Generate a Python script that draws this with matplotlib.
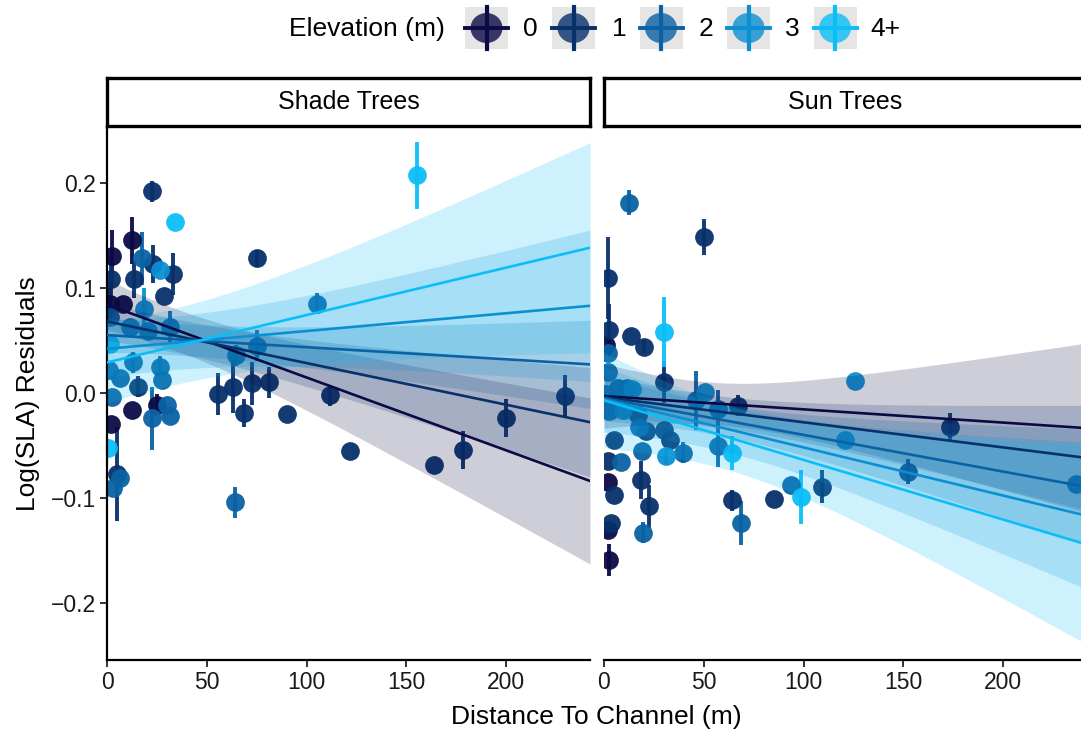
import numpy as np
import matplotlib
matplotlib.use('Agg')
import matplotlib.pyplot as plt
from matplotlib.patches import Rectangle, Ellipse

plt.rcParams['font.family'] = ['Liberation Sans', 'DejaVu Sans']

elev_labels = ['0', '1', '2', '3', '4+']
elev_colors = ['#0b0a45', '#08306b', '#0a62a4', '#0b8fd3', '#0bbef8']
panel_titles = ['Shade Trees', 'Sun Trees']
x_ticks = [0, 50, 100, 150, 200]
y_ticks = [-0.2, -0.1, 0.0, 0.1, 0.2]

# ---- Shade trees data (distance m, residual, error half-width, elevation class) ----
shade_dist = [22.5, 34, 75, 155.5, 105, 12.5, 2.5, 17.5, 23, 26.5, 33, 2, 13.5, 28.5, 8, 1.5,
              18.5, 31.5, 20.5, 11.5, 1.5, 13, 26.5, 6.5, 27.5, 15.5, 2.5, 12.5, 25, 30, 22.5,
              31.5, 2, 0.5, 5, 3, 6.5, 64, 64.5, 75, 55.5, 63, 72.5, 81, 68.5, 90, 111.5, 122,
              229.5, 200, 178.5, 164, 1.5, 1]
shade_resid = [0.192, 0.163, 0.128, 0.207, 0.085, 0.145, 0.130, 0.128, 0.123, 0.117, 0.113, 0.108,
               0.108, 0.092, 0.085, 0.085, 0.080, 0.063, 0.059, 0.063, 0.047, 0.029, 0.025, 0.014,
               0.012, 0.006, -0.004, -0.016, -0.011, -0.011, -0.024, -0.022, -0.030, -0.052,
               -0.077, -0.090, -0.081, -0.104, 0.036, 0.045, -0.001, 0.006, 0.009, 0.010, -0.019,
               -0.020, -0.002, -0.055, -0.003, -0.024, -0.054, -0.069, 0.072, 0.022]
shade_err = [0.010, 0.0, 0.008, 0.032, 0.010, 0.022, 0.025, 0.025, 0.018, 0.0, 0.020, 0.020,
             0.018, 0.0, 0.0, 0.015, 0.020, 0.015, 0.0, 0.0, 0.0, 0.010, 0.010, 0.0, 0.0, 0.010,
             0.0, 0.0, 0.010, 0.0, 0.030, 0.0, 0.0, 0.0, 0.045, 0.0, 0.0, 0.015, 0.010, 0.015,
             0.020, 0.025, 0.020, 0.015, 0.013, 0.0, 0.010, 0.0, 0.020, 0.018, 0.018, 0.0, 0.0, 0.0]
shade_elev = [1, 4, 1, 4, 2, 0, 0, 2, 1, 3, 1, 1, 1, 1, 0, 0, 3, 2, 2, 2, 4, 2, 2, 2, 2, 1, 2, 0,
              0, 2, 2, 2, 0, 4, 1, 2, 2, 2, 2, 2, 1, 1, 1, 1, 1, 1, 1, 1, 1, 1, 1, 1, 2, 2]

# ---- Sun trees data ----
sun_dist = [12.5, 50, 2, 2.5, 13.5, 20, 30, 1, 2, 2, 30, 46, 11.5, 7, 14, 2.5, 9.5, 17, 17.5,
            21, 30, 33, 5, 19, 31, 39.5, 8.5, 2, 2, 18.5, 5, 22.5, 3.5, 19.5, 2.5, 50.5, 57, 67,
            57, 64, 126, 120.5, 173.5, 152.5, 236.5, 64, 68.5, 85, 93.5, 98.5, 109, 2, 1]
sun_resid = [0.181, 0.148, 0.109, 0.060, 0.054, 0.044, 0.058, 0.046, 0.038, 0.020, 0.010, -0.007,
             0.005, 0.005, 0.004, -0.017, -0.016, -0.021, -0.032, -0.036, -0.035, -0.045, -0.045,
             -0.055, -0.060, -0.057, -0.066, -0.065, -0.085, -0.083, -0.097, -0.108, -0.124,
             -0.133, -0.159, 0.001, -0.015, -0.012, -0.050, -0.057, 0.011, -0.045, -0.032,
             -0.075, -0.087, -0.102, -0.124, -0.101, -0.088, -0.099, -0.089, -0.130, -0.001]
sun_err = [0.012, 0.017, 0.039, 0.025, 0.0, 0.006, 0.033, 0.0, 0.0, 0.0, 0.020, 0.028, 0.0, 0.0,
           0.0, 0.0, 0.0, 0.0, 0.0, 0.0, 0.0, 0.0, 0.0, 0.0, 0.008, 0.010, 0.0, 0.0, 0.0, 0.018,
           0.0, 0.020, 0.0, 0.010, 0.015, 0.0, 0.018, 0.010, 0.020, 0.016, 0.0, 0.0, 0.013,
           0.012, 0.0, 0.010, 0.021, 0.0, 0.0, 0.026, 0.016, 0.0, 0.0]
sun_elev = [2, 1, 1, 1, 1, 1, 4, 0, 2, 2, 1, 2, 2, 2, 3, 2, 3, 1, 2, 1, 1, 1, 1, 2, 3, 2, 2, 1,
            0, 1, 1, 1, 1, 2, 0, 3, 2, 1, 2, 4, 3, 3, 1, 1, 2, 1, 2, 1, 2, 4, 1, 0, 2]

# ---- Fitted lines (intercept, slope) and confidence half-widths per elevation ----
shade_intercept = [0.084, 0.068, 0.055, 0.042, 0.029]
shade_slope = [-0.000693, -0.000396, -0.000115, 0.000169, 0.000451]
shade_ci_min = [0.020, 0.016, 0.015, 0.0255, 0.0363]
shade_ci_xc = [35, 35, 35, 30, 30]
shade_ci_end = [0.079, 0.052, 0.042, 0.072, 0.100]

sun_intercept = [-0.003, -0.004, -0.005, -0.006, -0.007]
sun_slope = [-0.000126, -0.000239, -0.000349, -0.000458, -0.000567]
sun_ci_min = [0.020, 0.015, 0.015, 0.022, 0.031]
sun_ci_xc = [55, 55, 55, 60, 65]
sun_ci_end = [0.081, 0.050, 0.055, 0.070, 0.095]

XMAX = 242
YLIM = (-0.254, 0.252)

W, H = 1081, 734
fig = plt.figure(figsize=(W / 100, H / 100), dpi=100)

def px_rect(x0, y0, x1, y1):
    return [x0 / W, 1 - y1 / H, (x1 - x0) / W, (y1 - y0) / H]

ax_l = fig.add_axes(px_rect(107, 128, 590, 660))
ax_r = fig.add_axes(px_rect(604, 128, 1087, 660))

panels = [
    (ax_l, shade_dist, shade_resid, shade_err, shade_elev, shade_intercept, shade_slope,
     shade_ci_min, shade_ci_xc, shade_ci_end),
    (ax_r, sun_dist, sun_resid, sun_err, sun_elev, sun_intercept, sun_slope,
     sun_ci_min, sun_ci_xc, sun_ci_end),
]

xs = np.linspace(0, XMAX, 200)
for ax, dist, resid, err, elev, b0, b1, cmin, cxc, cend in panels:
    dist = np.array(dist); resid = np.array(resid); err = np.array(err); elev = np.array(elev)
    for e in range(5):
        m = elev == e
        ax.errorbar(dist[m], resid[m], yerr=err[m], fmt='o', color=elev_colors[e],
                    ms=13.5, mew=0, elinewidth=2.8, capsize=0, alpha=0.95, zorder=2,
                    clip_on=True)
    for e in range(5):
        k = np.sqrt(cend[e] ** 2 - cmin[e] ** 2) / (XMAX - cxc[e])
        hw = np.sqrt(cmin[e] ** 2 + (k * (xs - cxc[e])) ** 2)
        yhat = b0[e] + b1[e] * xs
        ax.fill_between(xs, yhat - hw, yhat + hw, color=elev_colors[e], alpha=0.2,
                        lw=0, zorder=3)
    for e in range(5):
        ax.plot(xs, b0[e] + b1[e] * xs, color=elev_colors[e], lw=1.9, zorder=4)
    ax.set_xlim(0, XMAX)
    ax.set_ylim(*YLIM)
    ax.set_xticks(x_ticks)
    ax.set_xticklabels([str(t) for t in x_ticks])
    for s in ['top', 'right']:
        ax.spines[s].set_visible(False)
    ax.spines['bottom'].set_linewidth(1.6)
    ax.spines['left'].set_linewidth(1.6)
    ax.tick_params(axis='both', length=5, width=1.4, color='#333333', labelsize=16.5,
                   labelcolor='#1a1a1a', pad=3)
    ax.set_facecolor('none')

ax_l.set_yticks(y_ticks)
ax_l.set_yticklabels([f'{t:.1f}'.replace('-', '\u2212') for t in y_ticks])
ax_r.spines['left'].set_visible(False)
ax_r.set_yticks([])

ax_l.set_ylabel('Log(SLA) Residuals', fontsize=19, labelpad=8)
fig.text((451 + 742) / 2 / W, 1 - 717 / H, 'Distance To Channel (m)',
         fontsize=19, ha='center', va='center')

# strips
for title, (x0, x1) in zip(panel_titles, [(107, 590), (604, 1087)]):
    sax = fig.add_axes(px_rect(x0, 78, x1, 126))
    sax.set_xticks([]); sax.set_yticks([])
    for s in sax.spines.values():
        s.set_linewidth(2.4)
        s.set_color('black')
    sax.text(0.5, 0.5, title, transform=sax.transAxes, ha='center', va='center', fontsize=18)

# legend (top)
lax = fig.add_axes([0, 0, 1, 1], zorder=10)
lax.set_xlim(0, W); lax.set_ylim(H, 0); lax.axis('off')
lax.text(445, 29, 'Elevation (m)', ha='right', va='center', fontsize=19)
key_cx = [486.5, 573.5, 661, 748.5, 835]
lab_x = [523, 612, 699, 785, 870]
for e in range(5):
    cx, cy = key_cx[e], 28
    lax.add_patch(Rectangle((cx - 21.5, cy - 21), 43, 42, color='#e5e5e5', lw=0))
    lax.plot([cx - 21.5, cx + 21.5], [cy, cy], color=elev_colors[e], lw=2.8)
    lax.plot([cx, cx], [cy - 21, cy + 21], color=elev_colors[e], lw=3.0)
    lax.add_patch(Ellipse((cx, cy), 32, 30, color=elev_colors[e], alpha=0.8, lw=0))
    lax.text(lab_x[e], 29, elev_labels[e], ha='left', va='center', fontsize=19)

fig.savefig('out.png', dpi=100)
